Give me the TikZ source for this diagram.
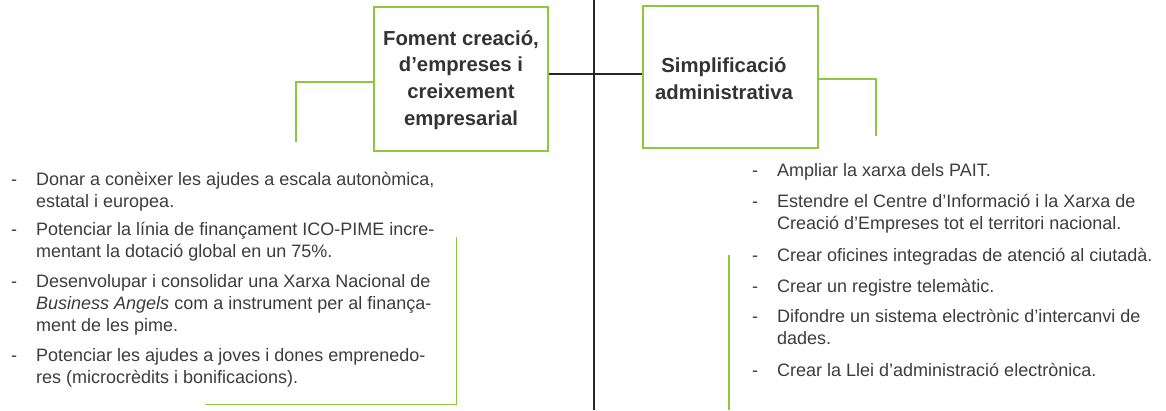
\documentclass[tikz,border=0pt]{standalone}
\usepackage{fontspec}
\setmainfont{Liberation Sans}
\definecolor{lgreen}{HTML}{8DC63F}
\definecolor{txtgrey}{HTML}{333333}
\definecolor{bodygrey}{HTML}{3C3C3C}
\definecolor{linedark}{HTML}{262626}
\begin{document}
\begin{tikzpicture}[x=1pt,y=-1pt,
  greenbox/.style={draw=lgreen,line width=2pt,minimum width=#1,inner sep=0pt},
  headtxt/.style={align=center,text=txtgrey,font=\fontsize{20.3}{26.7}\selectfont\bfseries,inner sep=0pt},
  bodytxt/.style={anchor=base west,text=bodygrey,font=\fontsize{18}{22}\selectfont,inner sep=0pt},
  greenline/.style={draw=lgreen,line width=1.3pt},
  blackline/.style={draw=linedark,line width=2.7pt},
  thinline/.style={draw=linedark,line width=1.3pt}]
\useasboundingbox (0,0) rectangle (1166,410);
% boxes
\node[greenbox=174pt,minimum height=143.5pt] (lbox) at (461,79.2) {};
\node[greenbox=175pt,minimum height=142pt] (rbox) at (730.5,77) {};
\node[headtxt] (ltitle) at (461,80) {Foment creació,\\d’empreses i\\creixement\\empresarial};
\node[headtxt] (rtitle) at (724,79) {Simplificació\\administrativa};
% central lines
\coordinate (vtop) at (594,0);
\coordinate (vbot) at (594,410);
\draw[thinline] (vtop) -- (vbot);
\draw[blackline] (lbox.east |- 0,74) -- (rbox.west |- 0,74);
% green brackets
\coordinate (lb1) at (296,82);
\coordinate (lb2) at (296,142);
\draw[greenline] (lbox.west |- lb1) -- (lb1) -- (lb2);
\coordinate (rb1) at (876,79);
\coordinate (rb2) at (876,136);
\draw[greenline] (rbox.east |- rb1) -- (rb1) -- (rb2);
\coordinate (bl1) at (456.5,237);
\coordinate (bl2) at (456.5,404.3);
\coordinate (bl3) at (205,404.3);
\draw[greenline] (bl1) -- (bl2) -- (bl3);
\coordinate (br1) at (729,255);
\coordinate (br2) at (729,410);
\draw[greenline] (br1) -- (br2);
% left list
\node[bodytxt] (ld1) at (11,185) {-};
\node[bodytxt] (l1a) at (36,185) {Donar a conèixer les ajudes a escala autonòmica,};
\node[bodytxt] (l1b) at (36,207) {estatal i europea.};
\node[bodytxt] (ld2) at (11,235) {-};
\node[bodytxt] (l2a) at (36,235) {Potenciar la línia de finançament ICO-PIME incre-};
\node[bodytxt] (l2b) at (36,257) {mentant la dotació global en un 75\%.};
\node[bodytxt] (ld3) at (11,287) {-};
\node[bodytxt] (l3a) at (36,287) {Desenvolupar i consolidar una Xarxa Nacional de};
\node[bodytxt] (l3b) at (36,309) {\textit{Business Angels} com a instrument per al finança-};
\node[bodytxt] (l3c) at (36,331) {ment de les pime.};
\node[bodytxt] (ld4) at (11,361) {-};
\node[bodytxt] (l4a) at (36,361) {Potenciar les ajudes a joves i dones emprenedo-};
\node[bodytxt] (l4b) at (36,383) {res (microcrèdits i bonificacions).};
% right list
\node[bodytxt] (rd1) at (752,176) {-};
\node[bodytxt] (r1a) at (777,176) {Ampliar la xarxa dels PAIT.};
\node[bodytxt] (rd2) at (752,207) {-};
\node[bodytxt] (r2a) at (777,207) {Estendre el Centre d’Informació i la Xarxa de};
\node[bodytxt] (r2b) at (777,229) {Creació d’Empreses tot el territori nacional.};
\node[bodytxt] (rd3) at (752,261) {-};
\node[bodytxt] (r3a) at (777,261) {Crear oficines integradas de atenció al ciutadà.};
\node[bodytxt] (rd4) at (752,292) {-};
\node[bodytxt] (r4a) at (777,292) {Crear un registre telemàtic.};
\node[bodytxt] (rd5) at (752,322) {-};
\node[bodytxt] (r5a) at (777,322) {Difondre un sistema electrònic d’intercanvi de};
\node[bodytxt] (r5b) at (777,344) {dades.};
\node[bodytxt] (rd6) at (752,376) {-};
\node[bodytxt] (r6a) at (777,376) {Crear la Llei d’administració electrònica.};
\end{tikzpicture}
\end{document}
